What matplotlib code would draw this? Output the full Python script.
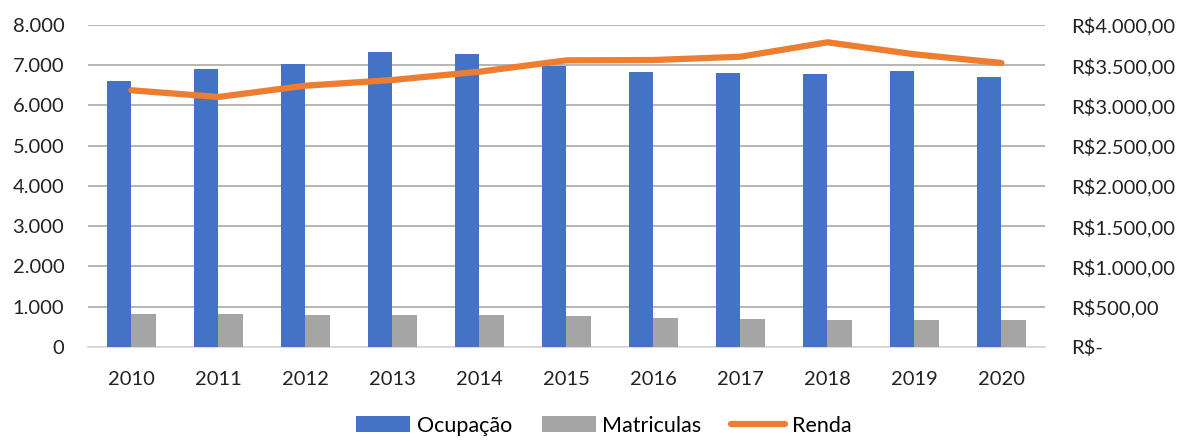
import matplotlib.pyplot as plt
import numpy as np
from matplotlib.ticker import FuncFormatter

plt.rcParams['font.family'] = ['Lato', 'DejaVu Sans']

# ================= DATA =================
anos = ["2010", "2011", "2012", "2013", "2014", "2015",
        "2016", "2017", "2018", "2019", "2020"]
ocupacao = [6610, 6900, 7030, 7320, 7280, 6990, 6825, 6805, 6775, 6850, 6715]
matriculas = [820, 812, 795, 787, 787, 770, 712, 688, 671, 663, 679]
renda = [3189, 3106, 3246, 3317, 3420, 3561, 3565, 3606, 3785, 3636, 3528]

AZUL = "#4472C4"
CINZA = "#A5A5A5"
LARANJA = "#ED7D31"

# ================= PLOT =================
fig = plt.figure(figsize=(11.84, 4.41), dpi=100)
ax = fig.add_axes([0.0743, 0.2132, 0.8083, 0.7301])
ax2 = ax.twinx()

x = np.arange(len(anos))
w = 0.286
b1 = ax.bar(x - w / 2, ocupacao, w, color=AZUL, zorder=3, label="Ocupação")
b2 = ax.bar(x + w / 2, matriculas, w, color=CINZA, zorder=3, label="Matriculas")
l1, = ax2.plot(x, renda, color=LARANJA, lw=4.5, solid_capstyle="round",
               zorder=4, label="Renda")

ax.set_xlim(-0.5, len(anos) - 0.5)
ax.set_ylim(0, 8000)
ax2.set_ylim(0, 4000)
ax.set_yticks(range(0, 8001, 1000))
ax2.set_yticks(range(0, 4001, 500))

ax.yaxis.set_major_formatter(FuncFormatter(
    lambda v, p: "0" if v == 0 else f"{int(v):,}".replace(",", ".")))


def fmt_renda(v, p):
    if v == 0:
        return "R$-"
    s = f"{v:,.2f}".replace(",", "X").replace(".", ",").replace("X", ".")
    return "R$" + s


ax2.yaxis.set_major_formatter(FuncFormatter(fmt_renda))

ax.set_xticks(x)
ax.set_xticklabels(anos)
ax.grid(axis="y", color="#B0B0B0", lw=1.3, zorder=0)
ax.set_axisbelow(True)

for a in (ax, ax2):
    for s in a.spines.values():
        s.set_visible(False)
ax.spines["bottom"].set_visible(True)
ax.spines["bottom"].set_color("#D9D9D9")
ax.spines["bottom"].set_linewidth(1.3)

ax.tick_params(axis="x", length=0, pad=17, labelsize=14.5, colors="#222222")
ax.tick_params(axis="y", length=0, pad=17, labelsize=14.5, colors="#222222")
ax2.tick_params(axis="y", length=0, pad=19, labelsize=14.5, colors="#222222")

fig.legend([b1, b2, l1], ["Ocupação", "Matriculas", "Renda"],
           loc="center", bbox_to_anchor=(0.51, 0.035), ncol=3, frameon=False,
           fontsize=15.5, handlelength=2.5, handleheight=0.8,
           columnspacing=1.4, handletextpad=0.3)

fig.savefig("out.png", dpi=100)
